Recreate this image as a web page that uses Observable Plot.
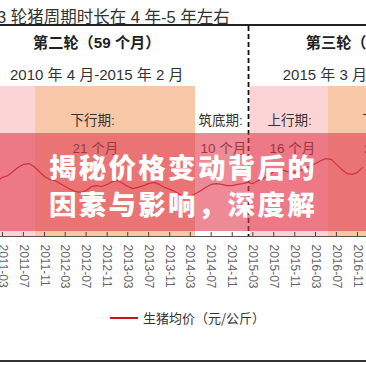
<!DOCTYPE html>
<html><head><meta charset="utf-8">
<script src="https://cdn.jsdelivr.net/npm/d3@7"></script>
<script src="https://cdn.jsdelivr.net/npm/@observablehq/plot@0.6"></script>
<style>
html,body{margin:0;padding:0;background:#fff;overflow:hidden;}
#wrap{position:relative;width:366px;height:366px;overflow:hidden;font-family:"Noto Sans CJK SC","Noto Sans",sans-serif;color:#333;}
#wrap svg{position:absolute;left:0;top:0;}
#wrap svg text{font-family:"Liberation Sans","Noto Sans CJK SC",sans-serif;}
.title{position:absolute;left:-3px;top:9px;font-size:16.5px;line-height:16px;white-space:nowrap;color:#333;font-family:"Liberation Sans","Noto Sans CJK SC",sans-serif;}
.topline{position:absolute;left:0;top:24px;width:366px;height:1.6px;background:#222;}
.botline{position:absolute;left:0;top:360px;width:366px;height:2px;background:#333;}
.legend{position:absolute;left:110px;top:310px;height:16px;white-space:nowrap;font-size:13px;line-height:16px;color:#333;}
.legend i{display:inline-block;width:28px;height:2px;background:#c4161c;vertical-align:middle;margin-right:5px;position:relative;top:-1px;}
.banner{position:absolute;left:0;top:133px;width:366px;height:98px;background:rgba(225,60,80,0.6);}
.banner div{position:absolute;left:0;width:366px;text-align:center;color:#fff;font-size:27.5px;font-weight:900;letter-spacing:2.3px;line-height:37px;white-space:nowrap;font-family:"Noto Sans CJK SC",sans-serif;}
</style></head><body><div id="wrap"></div>
<script>
// ---- data ----
const months = ["2011-02","2011-03","2011-04","2011-05","2011-06","2011-07","2011-08","2011-09","2011-10","2011-11","2011-12",
"2012-01","2012-02","2012-03","2012-04","2012-05","2012-06","2012-07","2012-08","2012-09","2012-10","2012-11","2012-12",
"2013-01","2013-02","2013-03","2013-04","2013-05","2013-06","2013-07","2013-08","2013-09","2013-10","2013-11","2013-12",
"2014-01","2014-02","2014-03","2014-04","2014-05","2014-06","2014-07","2014-08","2014-09","2014-10","2014-11","2014-12",
"2015-01","2015-02","2015-03","2015-04","2015-05","2015-06","2015-07","2015-08","2015-09","2015-10","2015-11","2015-12",
"2016-01","2016-02","2016-03","2016-04","2016-05","2016-06","2016-07","2016-08","2016-09","2016-10","2016-11","2016-12"];
const prices = [15.4,16.2,16.6,17.6,18.6,19.3,19.5,18.8,17.6,16.4,15.7,
15.4,14.7,14.0,13.3,12.8,12.6,13.0,14.0,14.2,14.0,14.5,15.2,
15.4,14.7,14.0,13.5,13.8,14.2,14.7,15.0,14.5,13.8,13.3,12.8,
12.1,11.1,11.6,12.3,13.0,13.8,14.5,14.7,14.5,14.2,14.2,14.5,
14.7,15.0,14.7,15.4,15.9,16.6,17.6,18.1,17.8,17.4,17.4,17.8,
18.3,19.0,19.5,20.2,20.7,20.5,19.3,18.1,17.1,16.9,17.4,18.6];
const tickMonths = ["2011-03","2011-07","2011-11","2012-03","2012-07","2012-11","2013-03","2013-07","2013-11",
"2014-03","2014-07","2014-11","2015-03","2015-07","2015-11","2016-03","2016-07","2016-11"];
const phaseKinds = ["up","down","bottom","up","down"];
const phaseNames = ["上行期:","下行期:","筑底期:","上行期:","下行期:"];
const phaseLengths = ["18 个月","21 个月","10 个月","16 个月","23 个月"];
const phaseStarts = ["2010-04-01","2011-09-10","2014-04-01","2015-02-16","2016-05-15"];
const phaseEnds   = ["2011-09-10","2014-04-01","2015-02-16","2016-05-15","2018-06-01"];
const roundNames = ["第二轮（59 个月）","第三轮（47 个月）"];
const roundPeriods = ["2010 年 4 月-2015 年 2 月","2015 年 3 月-2019 年 1 月"];
const roundCenters = ["2012-09-01","2017-01-10"];
const roundDivider = "2015-02-04";
const chartTitle = "3 轮猪周期时长在 4 年-5 年左右";
const legendLabel = "生猪均价（元/公斤）";
const bannerLines = ["揭秘价格变动背后的","因素与影响，深度解"];

// ---- styles (kept apart from data) ----
const kindColors = {up:"#fcd4d5", down:"#f8c7a7", bottom:"#ffffff"};
const labelDx = [35, 35, 3, 17, 34];

const parse = d3.utcParse("%Y-%m");
const series = months.map((m,i)=>({date:parse(m), price:prices[i]}));
const phases = phaseStarts.map((s,i)=>({start:new Date(s), end:new Date(phaseEnds[i]), kind:phaseKinds[i], name:phaseNames[i], len:phaseLengths[i], dx:labelDx[i]}));
const labelled = phases.slice(1);
const rounds = roundNames.map((n,i)=>({name:n, period:roundPeriods[i], center:new Date(roundCenters[i])}));
const ticks = tickMonths.map(parse);

const plot = Plot.plot({
  width:366, height:366,
  marginTop:86, marginBottom:130, marginLeft:0, marginRight:0,
  style:{background:"transparent", overflow:"visible"},
  x:{type:"utc", domain:[parse("2011-03"), parse("2016-11")], range:[2,357], axis:null},
  y:{domain:[2,38], axis:null},
  color:{type:"identity"},
  marks:[
    Plot.rect(phases, {x1:"start", x2:"end", fill:d=>kindColors[d.kind]}),
    Plot.ruleX([new Date(roundDivider)], {stroke:"#111", strokeWidth:1.8, strokeDasharray:"5,3", insetTop:-60}),
    Plot.line(series, {x:"date", y:"price", stroke:"#b8242b", strokeWidth:1.2}),
    Plot.ruleY([2], {stroke:"#555", strokeWidth:1}),
    Plot.ruleX(ticks, {stroke:"#444", strokeWidth:1, insetTop:146}),
    Plot.axisX(ticks, {tickSize:0, tickRotate:90, tickPadding:8, tickFormat:d3.utcFormat("%Y-%m"), fontSize:12, fill:"#666", label:null}),
    ...labelled.map(p=>Plot.text([p], {x:"start", text:"name", frameAnchor:"top", lineAnchor:"middle", dy:34, dx:p.dx, textAnchor:"start", fontSize:13.5, fill:"#333"})),
    ...labelled.map(p=>Plot.text([p], {x:"start", text:"len", frameAnchor:"top", lineAnchor:"middle", dy:62, dx:p.dx+2, textAnchor:"start", fontSize:13.5, fill:"#333"})),
    Plot.text(rounds, {x:"center", text:"name", frameAnchor:"top", lineAnchor:"middle", dy:-43, fontSize:15.2, fontWeight:"bold", fill:"#222"}),
    Plot.text(rounds, {x:"center", text:"period", frameAnchor:"top", lineAnchor:"middle", dy:-11, fontSize:15, fill:"#333"})
  ]
});

const wrap = document.getElementById("wrap");
wrap.appendChild(plot);
const add = (cls, html)=>{const d=document.createElement("div"); d.className=cls; d.innerHTML=html||""; wrap.appendChild(d); return d;};
add("title").textContent = chartTitle;
add("topline");
add("legend", "<i></i>"+legendLabel);
add("botline");
const banner = add("banner");
bannerLines.forEach((t,i)=>{const d=document.createElement("div"); d.style.top=(14.5+i*37)+"px"; d.textContent=t; banner.appendChild(d);});
</script></body></html>
